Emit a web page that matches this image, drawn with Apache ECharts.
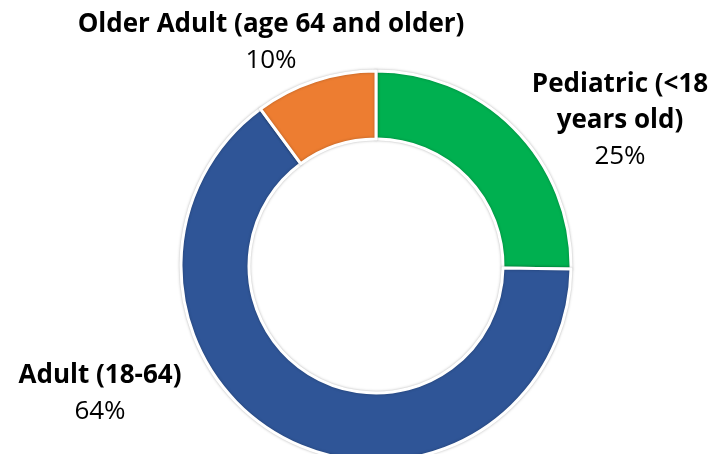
<!DOCTYPE html>
<html>
<head>
<meta charset="utf-8">
<script src="https://cdn.jsdelivr.net/npm/echarts@6/dist/echarts.min.js"></script>
<style>
  html, body { margin: 0; padding: 0; background: #fff; }
</style>
</head>
<body>
<div id="chart" style="width:726px;height:454px;"></div>
<script>
const names = ["Pediatric (<18\nyears old)", "Adult (18-64)", "Older Adult (age 64 and older)"]
const values = [25, 64, 10]
const colors = ["#00B050", "#2F5597", "#ED7D31"]

// label block centres, by slice
const labelPos = [
  { x: 620, y: 121 },
  { x: 100, y: 394 },
  { x: 271, y: 43 }
]

const myChart = echarts.init(document.getElementById("chart"))

myChart.setOption({
  animation: false,
  series: [
    {
      type: "pie",
      center: [376, 266],
      radius: [127, 195],
      startAngle: 90,
      clockwise: true,
      data: names.map((n, i) => ({ name: n, value: values[i], itemStyle: { color: colors[i] } })),
      itemStyle: {
        borderColor: "#fff",
        borderWidth: 3,
        shadowBlur: 3,
        shadowColor: "rgba(0,0,0,0.25)"
      },
      label: {
        show: true,
        position: "outside",
        overflow: "none",
        fontFamily: "Open Sans",
        formatter: (p) => {
          const lines = p.name.split("\n").map(l => "{b|" + l + "}")
          return lines.join("\n") + "\n{v|" + p.value + "%}"
        },
        rich: {
          b: { fontFamily: "Open Sans", fontWeight: "bold", fontSize: 26, color: "#000", lineHeight: 36, align: "center" },
          v: { fontFamily: "Open Sans", fontSize: 26, color: "#000", lineHeight: 36, align: "center" }
        }
      },
      labelLine: { show: false },
      labelLayout: (params) => ({
        x: labelPos[params.dataIndex].x,
        y: labelPos[params.dataIndex].y,
        align: "center",
        verticalAlign: "middle"
      })
    }
  ]
})
</script>
</body>
</html>
